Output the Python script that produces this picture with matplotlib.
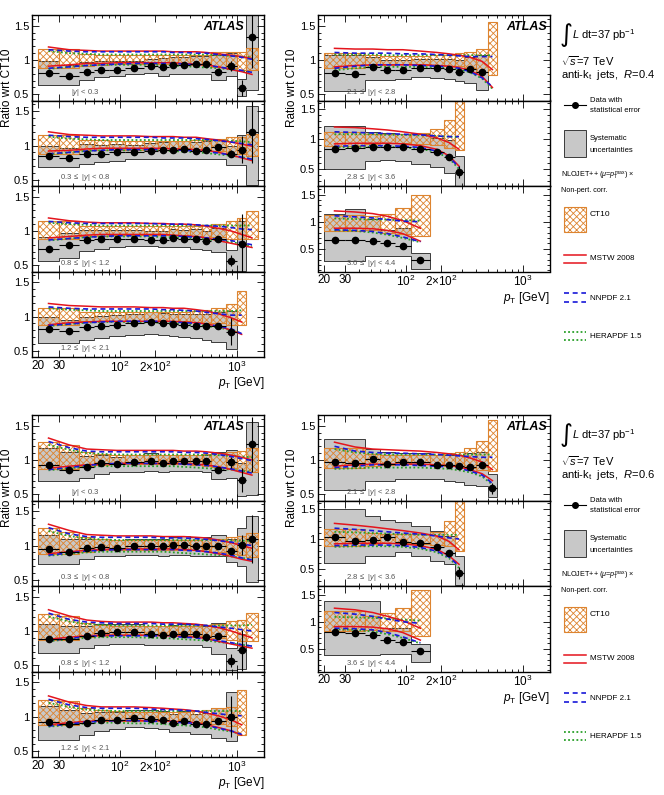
import numpy as np
import matplotlib.pyplot as plt
from matplotlib.patches import Rectangle
from matplotlib.ticker import FixedLocator, MultipleLocator

plt.rcParams['font.family'] = ['Liberation Sans', 'DejaVu Sans']
plt.rcParams['mathtext.fontset'] = 'custom'
plt.rcParams['mathtext.rm'] = 'Liberation Sans'
plt.rcParams['mathtext.it'] = 'Liberation Sans:italic'
plt.rcParams['mathtext.bf'] = 'Liberation Sans:bold'
plt.rcParams['hatch.linewidth'] = 0.6

# pT bin edges (GeV)
edges = [20, 30, 45, 60, 80, 110, 160, 210, 260, 310, 400, 500, 600, 800, 1000, 1200, 1500]

ybins = ['$|y|$ < 0.3', '0.3 $\\leq$ $|y|$ < 0.8', '0.8 $\\leq$ $|y|$ < 1.2', '1.2 $\\leq$ $|y|$ < 2.1',
         '2.1 $\\leq$ $|y|$ < 2.8', '2.8 $\\leq$ $|y|$ < 3.6', '3.6 $\\leq$ $|y|$ < 4.4']

# ---------------- anti-kt R=0.4 ----------------
data_r04 = [
    [0.81, 0.77, 0.83, 0.85, 0.86, 0.88, 0.91, 0.90, 0.93, 0.93, 0.94, 0.94, 0.83, 0.91, 0.59, 1.34],
    [0.845, 0.815, 0.88, 0.88, 0.90, 0.90, 0.92, 0.94, 0.94, 0.95, 0.92, 0.94, 0.975, 0.88, 0.94, 1.20],
    [0.745, 0.79, 0.865, 0.88, 0.88, 0.89, 0.865, 0.87, 0.895, 0.88, 0.88, 0.855, 0.88, 0.565, 0.805],
    [0.825, 0.785, 0.85, 0.865, 0.875, 0.90, 0.92, 0.90, 0.885, 0.875, 0.865, 0.865, 0.865, 0.78],
    [0.805, 0.795, 0.90, 0.855, 0.855, 0.88, 0.88, 0.865, 0.83, 0.865, 0.83],
    [0.83, 0.85, 0.87, 0.87, 0.86, 0.84, 0.78, 0.70, 0.45],
    [0.67, 0.67, 0.64, 0.61, 0.56, 0.30],
]
stat_r04 = [
    [0.01, 0.01, 0.01, 0.01, 0.01, 0.01, 0.01, 0.01, 0.01, 0.01, 0.01, 0.01, 0.02, 0.07, 0.12, 0.45],
    [0.01, 0.01, 0.01, 0.01, 0.01, 0.01, 0.01, 0.01, 0.01, 0.01, 0.01, 0.01, 0.03, 0.05, 0.20, 0.45],
    [0.01, 0.01, 0.01, 0.01, 0.01, 0.01, 0.01, 0.01, 0.01, 0.01, 0.01, 0.01, 0.04, 0.08, 0.45],
    [0.01, 0.01, 0.01, 0.01, 0.01, 0.01, 0.01, 0.01, 0.01, 0.01, 0.01, 0.02, 0.04, 0.20],
    [0.01, 0.01, 0.01, 0.01, 0.01, 0.01, 0.01, 0.01, 0.01, 0.02, 0.04],
    [0.01, 0.01, 0.01, 0.01, 0.01, 0.01, 0.01, 0.02, 0.10],
    [0.01, 0.01, 0.01, 0.01, 0.02, 0.03],
]
syslo_r04 = [
    [0.64, 0.64, 0.71, 0.75, 0.77, 0.80, 0.81, 0.77, 0.80, 0.80, 0.80, 0.79, 0.71, 0.76, 0.47, 0.56],
    [0.68, 0.68, 0.73, 0.76, 0.78, 0.80, 0.81, 0.81, 0.81, 0.81, 0.80, 0.80, 0.80, 0.71, 0.72, 0.42],
    [0.57, 0.60, 0.71, 0.74, 0.76, 0.78, 0.78, 0.77, 0.77, 0.76, 0.74, 0.72, 0.69, 0.42, 0.42],
    [0.62, 0.62, 0.66, 0.69, 0.71, 0.73, 0.74, 0.73, 0.72, 0.70, 0.68, 0.66, 0.63, 0.52],
    [0.55, 0.55, 0.71, 0.71, 0.73, 0.75, 0.74, 0.72, 0.70, 0.66, 0.56],
    [0.50, 0.50, 0.64, 0.66, 0.64, 0.58, 0.53, 0.44, 0.22],
    [0.28, 0.28, 0.37, 0.37, 0.37, 0.12],
]
syshi_r04 = [
    [0.98, 0.93, 0.97, 0.98, 0.98, 0.99, 1.02, 1.03, 1.05, 1.05, 1.06, 1.06, 1.08, 1.10, 0.73, 1.70],
    [1.00, 0.97, 1.02, 1.01, 1.02, 1.01, 1.03, 1.05, 1.06, 1.07, 1.05, 1.07, 1.10, 1.00, 1.15, 1.58],
    [0.92, 0.97, 1.02, 1.02, 1.01, 1.02, 1.00, 1.00, 1.03, 1.02, 1.03, 1.00, 1.05, 0.72, 1.15],
    [1.00, 0.95, 1.00, 1.01, 1.02, 1.04, 1.06, 1.05, 1.04, 1.03, 1.03, 1.04, 1.06, 1.08],
    [1.08, 1.08, 1.05, 1.00, 1.00, 1.02, 1.02, 1.01, 1.00, 1.04, 1.08],
    [1.21, 1.22, 1.12, 1.10, 1.08, 1.08, 1.02, 0.98, 0.72],
    [1.14, 1.24, 1.05, 0.85, 0.88, 0.43],
]
ct10hi_r04 = [
    [1.16, 1.16, 1.09, 1.08, 1.07, 1.07, 1.07, 1.07, 1.07, 1.07, 1.08, 1.08, 1.11, 1.12, 1.12, 1.17],
    [1.15, 1.15, 1.08, 1.08, 1.07, 1.07, 1.07, 1.07, 1.07, 1.07, 1.08, 1.08, 1.09, 1.12, 1.13, 1.17],
    [1.14, 1.14, 1.08, 1.08, 1.07, 1.07, 1.07, 1.07, 1.07, 1.07, 1.08, 1.09, 1.10, 1.15, 1.19, 1.29],
    [1.13, 1.13, 1.07, 1.06, 1.06, 1.06, 1.06, 1.06, 1.06, 1.07, 1.08, 1.09, 1.13, 1.18, 1.37],
    [1.10, 1.10, 1.07, 1.06, 1.06, 1.06, 1.07, 1.08, 1.10, 1.12, 1.16, 1.55],
    [1.12, 1.12, 1.08, 1.08, 1.08, 1.10, 1.17, 1.31, 1.70],
    [1.12, 1.12, 1.10, 1.14, 1.25, 1.50],
]
ct10lo_r04 = [
    [0.88, 0.88, 0.92, 0.93, 0.94, 0.94, 0.94, 0.94, 0.94, 0.94, 0.93, 0.93, 0.90, 0.88, 0.86, 0.85],
    [0.87, 0.87, 0.93, 0.93, 0.94, 0.94, 0.94, 0.94, 0.94, 0.94, 0.93, 0.93, 0.92, 0.88, 0.87, 0.85],
    [0.88, 0.88, 0.93, 0.93, 0.94, 0.94, 0.94, 0.94, 0.94, 0.94, 0.93, 0.92, 0.91, 0.89, 0.88, 0.88],
    [0.88, 0.88, 0.93, 0.94, 0.94, 0.94, 0.94, 0.94, 0.94, 0.93, 0.92, 0.91, 0.90, 0.88, 0.87],
    [0.89, 0.89, 0.93, 0.93, 0.94, 0.94, 0.93, 0.92, 0.91, 0.88, 0.82, 0.78],
    [0.88, 0.88, 0.92, 0.93, 0.93, 0.92, 0.90, 0.85, 0.82],
    [0.82, 0.82, 0.85, 0.80, 0.77, 0.73],
]
mstwhi_r04 = [
    [1.19, 1.15, 1.14, 1.13, 1.13, 1.13, 1.13, 1.13, 1.12, 1.12, 1.12, 1.11, 1.09, 1.07, 1.05, 1.02],
    [1.20, 1.16, 1.15, 1.14, 1.14, 1.14, 1.13, 1.13, 1.13, 1.12, 1.12, 1.10, 1.08, 1.05, 1.02, 0.99],
    [1.19, 1.15, 1.13, 1.12, 1.12, 1.12, 1.11, 1.11, 1.10, 1.10, 1.09, 1.07, 1.04, 1.00, 0.95, 0.90],
    [1.19, 1.16, 1.15, 1.14, 1.14, 1.14, 1.13, 1.13, 1.12, 1.12, 1.10, 1.08, 1.04, 0.98, 0.92],
    [1.17, 1.16, 1.16, 1.15, 1.15, 1.13, 1.11, 1.09, 1.07, 1.04, 0.98, 0.86],
    [1.20, 1.19, 1.17, 1.15, 1.12, 1.08, 1.02, 0.94, 0.83],
    [1.20, 1.18, 1.15, 1.10, 1.02, 0.88],
]
mstwlo_r04 = [
    [0.91, 0.93, 0.95, 0.95, 0.96, 0.96, 0.96, 0.96, 0.96, 0.95, 0.94, 0.93, 0.90, 0.86, 0.83, 0.79],
    [0.92, 0.93, 0.95, 0.96, 0.96, 0.96, 0.96, 0.96, 0.95, 0.95, 0.94, 0.93, 0.90, 0.86, 0.82, 0.78],
    [0.90, 0.92, 0.94, 0.95, 0.95, 0.95, 0.95, 0.95, 0.94, 0.93, 0.92, 0.90, 0.86, 0.82, 0.79, 0.76],
    [0.88, 0.91, 0.92, 0.93, 0.93, 0.93, 0.93, 0.93, 0.93, 0.92, 0.91, 0.89, 0.86, 0.80, 0.74],
    [0.90, 0.92, 0.93, 0.93, 0.93, 0.93, 0.92, 0.91, 0.89, 0.85, 0.76, 0.60],
    [0.92, 0.93, 0.93, 0.93, 0.92, 0.89, 0.83, 0.72, 0.55],
    [0.88, 0.88, 0.87, 0.84, 0.78, 0.64],
]
nnpdfhi_r04 = [
    [1.15, 1.13, 1.12, 1.12, 1.12, 1.12, 1.12, 1.12, 1.11, 1.11, 1.10, 1.10, 1.08, 1.06, 1.04, 1.01],
    [1.15, 1.13, 1.12, 1.12, 1.12, 1.12, 1.12, 1.11, 1.11, 1.11, 1.10, 1.09, 1.07, 1.05, 1.03, 1.01],
    [1.14, 1.12, 1.11, 1.11, 1.11, 1.11, 1.11, 1.10, 1.10, 1.10, 1.09, 1.08, 1.07, 1.05, 1.03, 1.02],
    [1.14, 1.12, 1.11, 1.11, 1.11, 1.11, 1.11, 1.10, 1.10, 1.09, 1.08, 1.06, 1.04, 1.02, 1.02],
    [1.11, 1.10, 1.10, 1.10, 1.09, 1.09, 1.08, 1.07, 1.06, 1.05, 1.05, 1.05],
    [1.12, 1.11, 1.10, 1.09, 1.08, 1.07, 1.05, 1.04, 1.04],
    [1.11, 1.09, 1.07, 1.04, 1.01, 1.00],
]
nnpdflo_r04 = [
    [0.88, 0.90, 0.92, 0.93, 0.94, 0.95, 0.95, 0.95, 0.95, 0.94, 0.93, 0.92, 0.90, 0.87, 0.85, 0.82],
    [0.88, 0.90, 0.92, 0.93, 0.94, 0.94, 0.94, 0.94, 0.94, 0.93, 0.92, 0.91, 0.89, 0.86, 0.83, 0.80],
    [0.87, 0.89, 0.91, 0.92, 0.93, 0.93, 0.93, 0.93, 0.93, 0.92, 0.91, 0.90, 0.88, 0.86, 0.83, 0.80],
    [0.87, 0.89, 0.91, 0.92, 0.93, 0.93, 0.93, 0.93, 0.92, 0.91, 0.90, 0.88, 0.86, 0.82, 0.75],
    [0.88, 0.91, 0.93, 0.93, 0.93, 0.92, 0.91, 0.90, 0.88, 0.83, 0.74, 0.61],
    [0.88, 0.89, 0.89, 0.89, 0.88, 0.86, 0.80, 0.70, 0.53],
    [0.85, 0.84, 0.82, 0.78, 0.72, 0.63],
]
herahi_r04 = [
    [1.13, 1.10, 1.09, 1.08, 1.08, 1.08, 1.08, 1.08, 1.08, 1.08, 1.08, 1.08, 1.07, 1.06, 1.05, 1.04],
    [1.13, 1.10, 1.09, 1.08, 1.08, 1.08, 1.08, 1.08, 1.08, 1.08, 1.08, 1.08, 1.07, 1.07, 1.06, 1.05],
    [1.12, 1.10, 1.09, 1.08, 1.08, 1.08, 1.08, 1.08, 1.08, 1.08, 1.08, 1.08, 1.08, 1.08, 1.08, 1.08],
    [1.12, 1.10, 1.09, 1.08, 1.08, 1.08, 1.08, 1.08, 1.08, 1.08, 1.08, 1.08, 1.08, 1.08, 1.09],
    [1.08, 1.08, 1.08, 1.07, 1.07, 1.07, 1.07, 1.07, 1.07, 1.07, 1.07, 1.07],
    [1.08, 1.08, 1.08, 1.07, 1.07, 1.06, 1.05, 1.04, 1.03],
    [1.06, 1.05, 1.04, 1.04, 1.03, 1.02],
]
heralo_r04 = [
    [0.87, 0.90, 0.92, 0.93, 0.93, 0.93, 0.93, 0.93, 0.92, 0.91, 0.90, 0.89, 0.88, 0.86, 0.84, 0.82],
    [0.87, 0.90, 0.92, 0.93, 0.93, 0.93, 0.93, 0.92, 0.92, 0.91, 0.90, 0.89, 0.87, 0.85, 0.83, 0.80],
    [0.86, 0.89, 0.91, 0.92, 0.92, 0.92, 0.92, 0.91, 0.91, 0.90, 0.89, 0.88, 0.86, 0.84, 0.81, 0.78],
    [0.86, 0.89, 0.91, 0.92, 0.92, 0.92, 0.91, 0.91, 0.90, 0.89, 0.88, 0.86, 0.84, 0.80, 0.75],
    [0.85, 0.88, 0.90, 0.90, 0.90, 0.90, 0.89, 0.88, 0.86, 0.82, 0.73, 0.58],
    [0.86, 0.87, 0.87, 0.87, 0.86, 0.84, 0.78, 0.68, 0.50],
    [0.84, 0.83, 0.80, 0.76, 0.70, 0.62],
]

# ---------------- anti-kt R=0.6 ----------------
data_r06 = [
    [0.93, 0.86, 0.90, 0.96, 0.94, 0.97, 0.98, 0.96, 0.98, 0.98, 0.99, 0.98, 0.86, 0.97, 0.71, 1.23],
    [0.95, 0.90, 0.97, 0.98, 0.97, 0.99, 0.99, 0.99, 1.01, 1.01, 0.99, 0.99, 1.00, 0.92, 1.01, 1.10],
    [0.88, 0.88, 0.93, 0.975, 0.98, 0.98, 0.95, 0.94, 0.955, 0.955, 0.95, 0.92, 0.93, 0.57, 0.72],
    [0.92, 0.89, 0.91, 0.95, 0.95, 0.98, 0.97, 0.95, 0.90, 0.94, 0.89, 0.89, 0.93, 1.00],
    [0.965, 0.955, 1.015, 0.945, 0.97, 0.965, 0.93, 0.93, 0.91, 0.905, 0.93, 0.59],
    [1.03, 0.97, 0.99, 1.04, 0.955, 0.93, 0.87, 0.76, 0.44],
    [0.815, 0.80, 0.755, 0.66, 0.63, 0.46],
]
stat_r06 = [
    [0.01, 0.01, 0.01, 0.01, 0.01, 0.01, 0.01, 0.01, 0.01, 0.01, 0.01, 0.01, 0.03, 0.08, 0.17, 0.40],
    [0.01, 0.01, 0.01, 0.01, 0.01, 0.01, 0.01, 0.01, 0.01, 0.01, 0.01, 0.01, 0.03, 0.05, 0.15, 0.35],
    [0.01, 0.01, 0.01, 0.01, 0.01, 0.01, 0.01, 0.01, 0.01, 0.01, 0.01, 0.01, 0.03, 0.10, 0.30],
    [0.01, 0.01, 0.01, 0.01, 0.01, 0.01, 0.01, 0.01, 0.01, 0.01, 0.01, 0.02, 0.04, 0.30],
    [0.01, 0.01, 0.01, 0.01, 0.01, 0.01, 0.01, 0.01, 0.01, 0.01, 0.02, 0.08],
    [0.01, 0.01, 0.01, 0.01, 0.01, 0.01, 0.01, 0.02, 0.10],
    [0.01, 0.01, 0.01, 0.01, 0.02, 0.04],
]
syslo_r06 = [
    [0.69, 0.69, 0.74, 0.80, 0.82, 0.83, 0.84, 0.82, 0.84, 0.84, 0.84, 0.83, 0.73, 0.74, 0.47, 0.49],
    [0.73, 0.73, 0.81, 0.84, 0.85, 0.86, 0.86, 0.85, 0.86, 0.86, 0.85, 0.85, 0.84, 0.76, 0.70, 0.47],
    [0.68, 0.68, 0.75, 0.80, 0.81, 0.81, 0.80, 0.79, 0.80, 0.80, 0.79, 0.76, 0.67, 0.43, 0.45],
    [0.66, 0.66, 0.73, 0.79, 0.82, 0.84, 0.83, 0.82, 0.78, 0.78, 0.74, 0.74, 0.69, 0.64],
    [0.57, 0.57, 0.70, 0.70, 0.73, 0.73, 0.72, 0.70, 0.68, 0.64, 0.62, 0.46],
    [0.61, 0.61, 0.72, 0.72, 0.78, 0.72, 0.64, 0.58, 0.23],
    [0.39, 0.39, 0.39, 0.40, 0.40, 0.26],
]
syshi_r06 = [
    [1.18, 1.12, 1.06, 1.08, 1.05, 1.08, 1.10, 1.08, 1.07, 1.07, 1.08, 1.08, 1.12, 1.15, 0.95, 1.56],
    [1.15, 1.10, 1.10, 1.10, 1.08, 1.10, 1.10, 1.10, 1.13, 1.14, 1.12, 1.12, 1.15, 1.10, 1.25, 1.43],
    [1.10, 1.08, 1.07, 1.10, 1.10, 1.10, 1.08, 1.07, 1.09, 1.10, 1.10, 1.08, 1.12, 0.75, 0.95],
    [1.15, 1.10, 1.05, 1.07, 1.07, 1.10, 1.10, 1.08, 1.04, 1.08, 1.04, 1.05, 1.12, 1.36],
    [1.30, 1.30, 1.16, 1.12, 1.10, 1.10, 1.08, 1.08, 1.08, 1.10, 1.12, 0.80],
    [1.50, 1.50, 1.39, 1.31, 1.28, 1.22, 1.14, 1.05, 0.72],
    [1.38, 1.38, 1.38, 0.88, 0.88, 0.58],
]
ct10hi_r06 = [
    [1.26, 1.22, 1.12, 1.09, 1.08, 1.08, 1.08, 1.08, 1.08, 1.08, 1.08, 1.09, 1.10, 1.12, 1.13, 1.18],
    [1.25, 1.20, 1.12, 1.09, 1.08, 1.08, 1.08, 1.08, 1.08, 1.08, 1.08, 1.09, 1.10, 1.12, 1.14, 1.18],
    [1.25, 1.22, 1.12, 1.09, 1.08, 1.08, 1.08, 1.08, 1.08, 1.08, 1.08, 1.09, 1.10, 1.14, 1.16, 1.26],
    [1.24, 1.22, 1.12, 1.09, 1.08, 1.07, 1.07, 1.07, 1.07, 1.07, 1.08, 1.09, 1.12, 1.14, 1.38],
    [1.18, 1.18, 1.09, 1.08, 1.07, 1.07, 1.08, 1.10, 1.12, 1.18, 1.27, 1.58],
    [1.16, 1.16, 1.10, 1.09, 1.08, 1.09, 1.12, 1.30, 1.72],
    [1.19, 1.19, 1.10, 1.16, 1.25, 1.58],
]
ct10lo_r06 = [
    [0.87, 0.87, 0.91, 0.93, 0.94, 0.94, 0.94, 0.94, 0.94, 0.94, 0.93, 0.92, 0.90, 0.88, 0.85, 0.82],
    [0.87, 0.87, 0.91, 0.93, 0.94, 0.94, 0.94, 0.94, 0.94, 0.94, 0.93, 0.92, 0.90, 0.88, 0.86, 0.83],
    [0.87, 0.87, 0.91, 0.93, 0.94, 0.94, 0.94, 0.94, 0.94, 0.94, 0.93, 0.92, 0.90, 0.87, 0.85, 0.85],
    [0.87, 0.87, 0.91, 0.93, 0.94, 0.94, 0.94, 0.94, 0.94, 0.93, 0.92, 0.91, 0.89, 0.86, 0.73],
    [0.88, 0.88, 0.92, 0.93, 0.94, 0.94, 0.93, 0.92, 0.90, 0.88, 0.85, 0.84],
    [0.89, 0.89, 0.92, 0.93, 0.93, 0.92, 0.90, 0.88, 0.80],
    [0.82, 0.82, 0.85, 0.83, 0.83, 0.73],
]
mstwhi_r06 = [
    [1.32, 1.22, 1.16, 1.15, 1.14, 1.14, 1.14, 1.14, 1.14, 1.13, 1.13, 1.12, 1.10, 1.07, 1.04, 1.00],
    [1.31, 1.22, 1.16, 1.15, 1.14, 1.14, 1.14, 1.13, 1.13, 1.13, 1.12, 1.11, 1.08, 1.04, 1.00, 0.96],
    [1.31, 1.22, 1.16, 1.14, 1.13, 1.13, 1.13, 1.12, 1.12, 1.11, 1.10, 1.08, 1.05, 1.00, 0.95, 0.90],
    [1.30, 1.21, 1.16, 1.14, 1.14, 1.14, 1.13, 1.12, 1.11, 1.10, 1.08, 1.05, 1.01, 0.95, 0.88],
    [1.26, 1.19, 1.16, 1.15, 1.14, 1.13, 1.11, 1.09, 1.07, 1.03, 0.97, 0.86],
    [1.26, 1.23, 1.20, 1.17, 1.14, 1.10, 1.05, 0.96, 0.82],
    [1.25, 1.22, 1.17, 1.10, 1.02, 0.88],
]
mstwlo_r06 = [
    [0.88, 0.91, 0.93, 0.94, 0.95, 0.95, 0.95, 0.95, 0.95, 0.95, 0.94, 0.93, 0.90, 0.86, 0.82, 0.78],
    [0.88, 0.91, 0.93, 0.94, 0.95, 0.95, 0.95, 0.95, 0.95, 0.94, 0.93, 0.91, 0.88, 0.84, 0.80, 0.77],
    [0.88, 0.91, 0.93, 0.94, 0.94, 0.94, 0.94, 0.93, 0.93, 0.92, 0.91, 0.89, 0.85, 0.81, 0.78, 0.75],
    [0.88, 0.91, 0.93, 0.94, 0.94, 0.94, 0.94, 0.94, 0.93, 0.92, 0.91, 0.88, 0.84, 0.79, 0.73],
    [0.91, 0.93, 0.94, 0.94, 0.94, 0.94, 0.93, 0.92, 0.90, 0.86, 0.80, 0.70],
    [0.92, 0.93, 0.93, 0.93, 0.92, 0.89, 0.83, 0.72, 0.58],
    [0.91, 0.91, 0.90, 0.87, 0.80, 0.66],
]
nnpdfhi_r06 = [
    [1.27, 1.18, 1.13, 1.12, 1.12, 1.12, 1.12, 1.12, 1.12, 1.11, 1.11, 1.10, 1.08, 1.05, 1.02, 0.99],
    [1.26, 1.17, 1.13, 1.12, 1.12, 1.12, 1.12, 1.11, 1.11, 1.11, 1.10, 1.09, 1.07, 1.05, 1.02, 1.00],
    [1.26, 1.17, 1.13, 1.12, 1.11, 1.11, 1.11, 1.10, 1.10, 1.10, 1.09, 1.08, 1.06, 1.04, 1.02, 1.00],
    [1.25, 1.17, 1.13, 1.12, 1.12, 1.12, 1.11, 1.10, 1.10, 1.09, 1.08, 1.06, 1.04, 1.02, 1.01],
    [1.20, 1.13, 1.11, 1.10, 1.10, 1.09, 1.08, 1.07, 1.06, 1.05, 1.04, 1.04],
    [1.18, 1.16, 1.14, 1.12, 1.10, 1.08, 1.05, 1.02, 1.00],
    [1.17, 1.14, 1.10, 1.05, 1.00, 0.97],
]
nnpdflo_r06 = [
    [0.86, 0.89, 0.92, 0.94, 0.95, 0.95, 0.95, 0.95, 0.95, 0.94, 0.93, 0.92, 0.90, 0.87, 0.84, 0.81],
    [0.86, 0.89, 0.92, 0.93, 0.94, 0.94, 0.94, 0.94, 0.94, 0.93, 0.92, 0.91, 0.89, 0.86, 0.82, 0.79],
    [0.86, 0.89, 0.92, 0.93, 0.93, 0.93, 0.93, 0.93, 0.92, 0.91, 0.90, 0.88, 0.86, 0.83, 0.80, 0.78],
    [0.86, 0.89, 0.92, 0.93, 0.94, 0.94, 0.93, 0.93, 0.92, 0.91, 0.90, 0.87, 0.83, 0.79, 0.74],
    [0.89, 0.91, 0.93, 0.93, 0.93, 0.92, 0.91, 0.90, 0.88, 0.84, 0.78, 0.66],
    [0.89, 0.90, 0.90, 0.90, 0.89, 0.86, 0.80, 0.70, 0.55],
    [0.88, 0.87, 0.85, 0.80, 0.72, 0.61],
]
herahi_r06 = [
    [1.22, 1.15, 1.10, 1.09, 1.08, 1.08, 1.08, 1.08, 1.08, 1.08, 1.08, 1.07, 1.07, 1.06, 1.05, 1.04],
    [1.21, 1.14, 1.10, 1.09, 1.08, 1.08, 1.08, 1.08, 1.08, 1.08, 1.08, 1.08, 1.08, 1.07, 1.07, 1.07],
    [1.21, 1.14, 1.10, 1.09, 1.08, 1.08, 1.08, 1.08, 1.08, 1.08, 1.08, 1.08, 1.08, 1.08, 1.08, 1.09],
    [1.20, 1.14, 1.10, 1.09, 1.08, 1.08, 1.08, 1.08, 1.08, 1.08, 1.08, 1.08, 1.08, 1.08, 1.08],
    [1.16, 1.11, 1.09, 1.08, 1.08, 1.08, 1.08, 1.08, 1.08, 1.08, 1.08, 1.08],
    [1.12, 1.11, 1.10, 1.09, 1.08, 1.07, 1.07, 1.07, 1.07],
    [1.09, 1.08, 1.07, 1.06, 1.04, 1.02],
]
heralo_r06 = [
    [0.85, 0.88, 0.90, 0.91, 0.91, 0.91, 0.91, 0.91, 0.91, 0.90, 0.89, 0.88, 0.87, 0.86, 0.84, 0.83],
    [0.85, 0.88, 0.90, 0.91, 0.91, 0.91, 0.91, 0.91, 0.90, 0.89, 0.88, 0.87, 0.86, 0.84, 0.82, 0.80],
    [0.85, 0.88, 0.90, 0.91, 0.91, 0.91, 0.90, 0.90, 0.89, 0.88, 0.87, 0.86, 0.84, 0.82, 0.80, 0.78],
    [0.85, 0.88, 0.90, 0.91, 0.91, 0.90, 0.90, 0.89, 0.88, 0.87, 0.86, 0.84, 0.81, 0.78, 0.74],
    [0.87, 0.88, 0.89, 0.89, 0.89, 0.89, 0.88, 0.87, 0.85, 0.82, 0.76, 0.64],
    [0.87, 0.88, 0.88, 0.88, 0.87, 0.84, 0.78, 0.68, 0.52],
    [0.86, 0.85, 0.82, 0.77, 0.70, 0.60],
]

# y ranges: four left panels and first right panel share one, the two forward ones differ
ylims = [(0.41, 1.656), (0.41, 1.656), (0.41, 1.656), (0.41, 1.656),
         (0.41, 1.656), (0.22, 1.64), (0.08, 1.66)]

GREY = '#c8c8c8'
GREY_EDGE = '#3a3a3a'
ORANGE = '#dd8430'
RED = '#e4141c'
BLUE = '#1818d8'
GREEN = '#2aa02a'

W, H = 664, 795
fig = plt.figure(figsize=(W / 100, H / 100), dpi=100)


def px_rect(x, top, w, h):
    return [x / W, 1 - (top + h) / H, w / W, h / H]


def draw_panel(ax, d, st, slo, shi, clo, chi, mlo, mhi, nlo, nhi, hlo, hhi):
    e = np.array(edges, dtype=float)
    nd, nt = len(d), len(chi)
    ed, et = e[:nd + 1], e[:nt + 1]
    cd = np.sqrt(ed[:-1] * ed[1:])
    ct = np.sqrt(et[:-1] * et[1:])
    ax.stairs(shi, ed, baseline=slo, fill=True, facecolor=GREY,
              edgecolor=GREY_EDGE, linewidth=0.7, zorder=1)
    ax.bar(et[:-1], np.array(chi) - np.array(clo), width=np.diff(et), bottom=clo,
           align='edge', facecolor='none', edgecolor=ORANGE, hatch='xxxxx',
           linewidth=0.8, zorder=2)
    ax.plot(ct, hhi, color=GREEN, lw=1.3, ls=(0, (1, 1.3)), zorder=3)
    ax.plot(ct, hlo, color=GREEN, lw=1.3, ls=(0, (1, 1.3)), zorder=3)
    ax.plot(ct, mhi, color=RED, lw=1.1, zorder=3)
    ax.plot(ct, mlo, color=RED, lw=1.1, zorder=3)
    ax.plot(ct, nhi, color=BLUE, lw=1.2, ls=(0, (3, 2.2)), zorder=3)
    ax.plot(ct, nlo, color=BLUE, lw=1.2, ls=(0, (3, 2.2)), zorder=3)
    ax.errorbar(cd, d, yerr=st, xerr=[cd - ed[:-1], ed[1:] - cd], fmt='o',
                color='black', ms=4.5, elinewidth=0.8, capsize=0, zorder=4)


def style(ax, ylim, bottom):
    ax.set_xscale('log')
    ax.set_xlim(17.7, 1700)
    ax.set_ylim(*ylim)
    ax.yaxis.set_major_locator(FixedLocator([0.5, 1.0, 1.5]))
    ax.yaxis.set_minor_locator(MultipleLocator(0.1))
    ax.set_yticklabels(['0.5', '1', '1.5'])
    ax.xaxis.set_major_locator(FixedLocator([20, 30, 100, 200, 1000]))
    ax.xaxis.set_minor_locator(FixedLocator([40, 50, 60, 70, 80, 90, 300, 400, 500,
                                             600, 700, 800, 900]))
    ax.set_xticklabels(['20', '30', '$10^2$', '$2{\\times}10^2$', '$10^3$'])
    ax.tick_params(which='both', direction='in', top=True, right=True, width=0.6)
    ax.tick_params(which='major', length=5, labelsize=8, pad=2)
    ax.tick_params(which='minor', length=2.5)
    ax.tick_params(axis='x', labelbottom=bottom, labelsize=8.5)
    for s in ax.spines.values():
        s.set_linewidth(1.0)


ov = fig.add_axes([0, 0, 1, 1], zorder=10)
ov.set_xlim(0, W)
ov.set_ylim(H, 0)
ov.axis('off')


def legend(dy, rtext):
    ov.text(560, 35 + dy, '\u222b', fontsize=18, va='center', ha='left', family='DejaVu Sans')
    ov.text(572, 35 + dy, '$L$ dt=37 pb$^{-1}$', fontsize=8, va='center')
    ov.text(561, 61 + dy, '$\\sqrt{s}$=7 TeV', fontsize=8, va='center')
    ov.text(561, 75 + dy, 'anti-k$_{\\mathrm{t}}$  jets,  $R$=' + rtext, fontsize=8, va='center')
    ov.plot([564, 586], [105 + dy] * 2, color='black', lw=0.8)
    ov.plot([575], [105 + dy], 'o', color='black', ms=4)
    ov.text(590, 100 + dy, 'Data with', fontsize=5.5, va='center')
    ov.text(590, 110 + dy, 'statistical error', fontsize=5.5, va='center')
    ov.add_patch(Rectangle((564, 130 + dy), 22, 27, facecolor=GREY, edgecolor=GREY_EDGE, lw=0.7))
    ov.text(590, 138 + dy, 'Systematic', fontsize=5.5, va='center')
    ov.text(590, 150 + dy, 'uncertainties', fontsize=5.5, va='center')
    ov.text(561, 176 + dy, 'NLOJET++ ($\\mu$=$p_{\\mathrm{T}}^{\\mathrm{max}}$) $\\times$',
            fontsize=5.2, va='center')
    ov.text(561, 190 + dy, 'Non-pert. corr.', fontsize=5.2, va='center')
    ov.add_patch(Rectangle((564, 207 + dy), 22, 25, facecolor='none', edgecolor=ORANGE,
                           hatch='xxxxx', lw=0.8))
    ov.text(590, 214 + dy, 'CT10', fontsize=6, va='center')
    for yy in (255, 263):
        ov.plot([564, 586], [yy + dy] * 2, color=RED, lw=1.1)
    ov.text(590, 259 + dy, 'MSTW 2008', fontsize=5.8, va='center')
    for yy in (293, 302):
        ov.plot([564, 586], [yy + dy] * 2, color=BLUE, lw=1.2, ls=(0, (3, 2.2)))
    ov.text(590, 298 + dy, 'NNPDF 2.1', fontsize=5.8, va='center')
    for yy in (332, 340):
        ov.plot([564, 586], [yy + dy] * 2, color=GREEN, lw=1.3, ls=(0, (1, 1.3)))
    ov.text(590, 337 + dy, 'HERAPDF 1.5', fontsize=5.8, va='center')


ph = 85.5
groups = [
    (15, '0.4', data_r04, stat_r04, syslo_r04, syshi_r04, ct10lo_r04, ct10hi_r04,
     mstwlo_r04, mstwhi_r04, nnpdflo_r04, nnpdfhi_r04, heralo_r04, herahi_r04),
    (415, '0.6', data_r06, stat_r06, syslo_r06, syshi_r06, ct10lo_r06, ct10hi_r06,
     mstwlo_r06, mstwhi_r06, nnpdflo_r06, nnpdfhi_r06, heralo_r06, herahi_r06),
]

for g in groups:
    top0, rtext = g[0], g[1]
    arrs = g[2:]
    for k in range(7):
        if k < 4:
            x0, top = 32, top0 + k * ph
            bottom = (k == 3)
        else:
            x0, top = 318, top0 + (k - 4) * ph
            bottom = (k == 6)
        ax = fig.add_axes(px_rect(x0, top, 232, ph))
        draw_panel(ax, *[a[k] for a in arrs])
        style(ax, ylims[k], bottom)
        lx = 0.17 if k == 0 else 0.12
        ax.text(lx, 0.03, ybins[k], transform=ax.transAxes, fontsize=5.5,
                color='#555555', va='bottom', ha='left')
        if k == 0:
            ax.text(0.915, 0.86, 'ATLAS', transform=ax.transAxes, fontsize=9,
                    fontweight='bold', style='italic', ha='right', va='center', zorder=6)
        if k == 4:
            ax.text(0.985, 0.86, 'ATLAS', transform=ax.transAxes, fontsize=9,
                    fontweight='bold', style='italic', ha='right', va='center', zorder=6)
    # axis titles
    ov.text(7, top0 + 73, 'Ratio wrt CT10', rotation=90, fontsize=8.5, ha='center', va='center')
    ov.text(292, top0 + 73, 'Ratio wrt CT10', rotation=90, fontsize=8.5, ha='center', va='center')
    ov.text(265, top0 + 368, '$p_{\\mathrm{T}}$ [GeV]', fontsize=8.5, ha='right', va='center')
    ov.text(550, top0 + 283, '$p_{\\mathrm{T}}$ [GeV]', fontsize=8.5, ha='right', va='center')
    legend(top0 - 15, rtext)

fig.savefig('out.png', dpi=100)
